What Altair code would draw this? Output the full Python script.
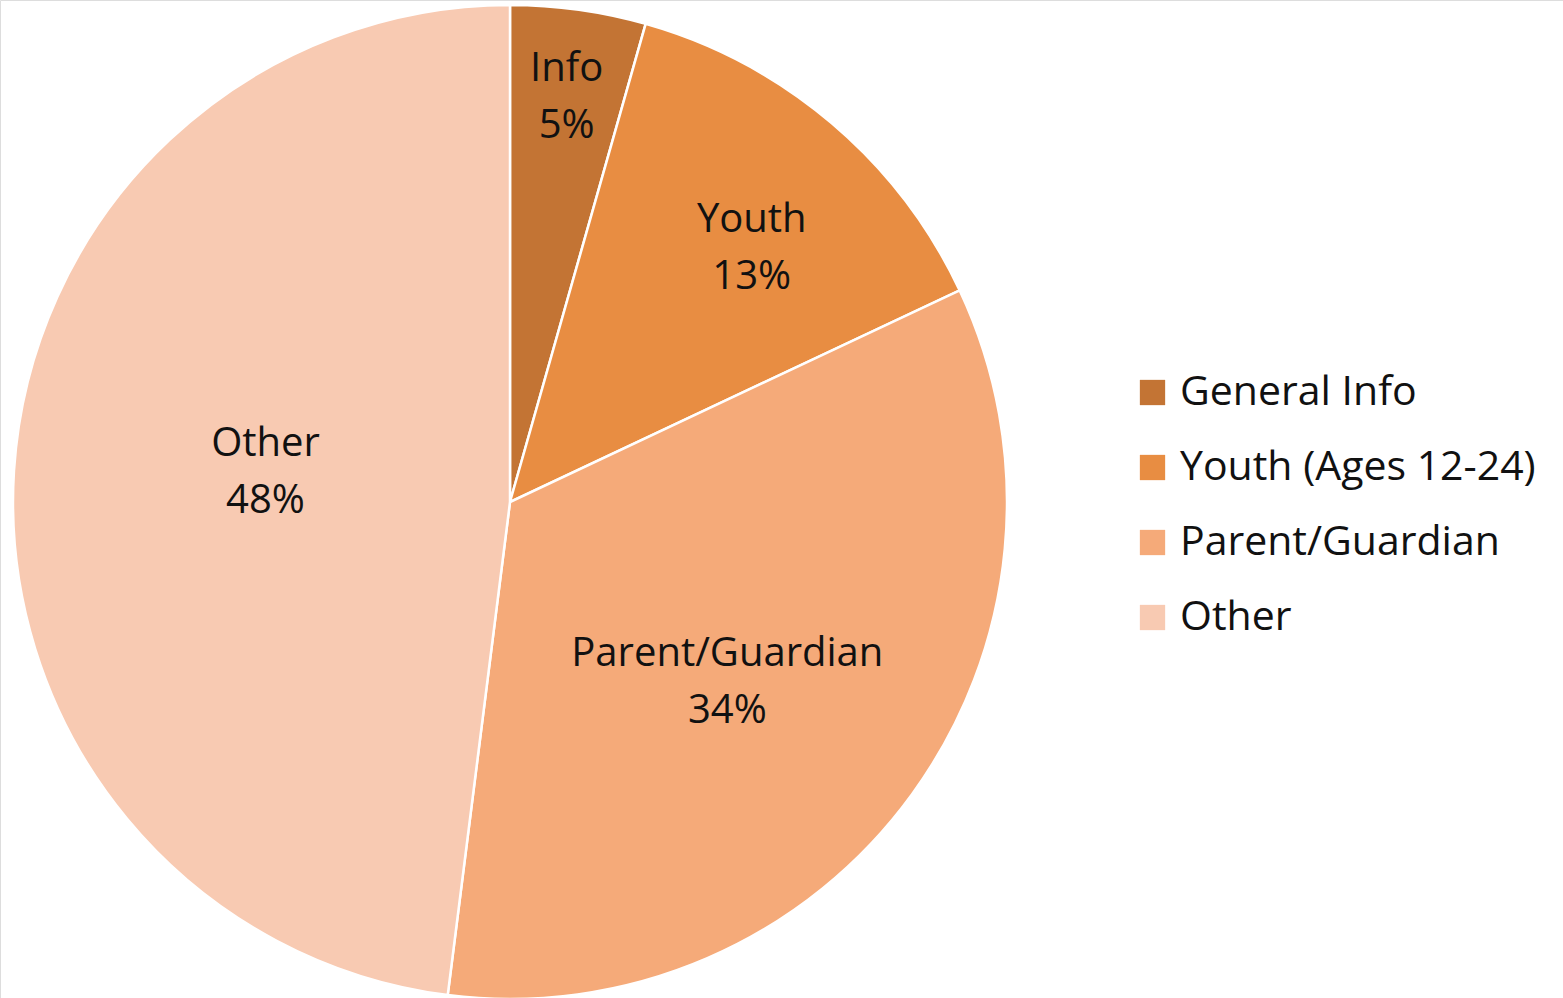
import altair as alt
import pandas as pd

categories = ["General Info", "Youth (Ages 12-24)", "Parent/Guardian", "Other"]
short_labels = ["Info", "Youth", "Parent/Guardian", "Other"]
values = [4.4, 13.6, 34.0, 48.0]
pct_labels = ["5%", "13%", "34%", "48%"]
colors = ["#C37434", "#E88D42", "#F5AA79", "#F8CAB2"]

df = pd.DataFrame({
    "category": categories,
    "short": short_labels,
    "value": values,
    "pct": pct_labels,
    "order": list(range(len(categories))),
})
df["label"] = df.apply(lambda r: [r["short"], r["pct"]], axis=1)

CX, CY, R = 510, 502, 497
FONT = "Open Sans"

color_scale = alt.Scale(domain=categories, range=colors)

base = alt.Chart(df).encode(
    theta=alt.Theta("value:Q", stack=True),
    order=alt.Order("order:Q"),
    x=alt.value(CX),
    y=alt.value(CY),
)

arcs = base.mark_arc(radius=R, stroke="white", strokeWidth=2.5).encode(
    color=alt.Color(
        "category:N",
        scale=color_scale,
        sort=categories,
        legend=alt.Legend(
            title=None,
            orient="none",
            legendX=1132,
            legendY=372,
            symbolType="square",
            symbolSize=640,
            symbolStrokeWidth=0,
            labelFont=FONT,
            labelFontSize=41,
            labelColor="#111111",
            labelLimit=500,
            labelOffset=7,
            rowPadding=33,
        ),
    )
)

# (radius, dx, dy) placement of each slice label
label_place = {
    "General Info": (411, 0, -26),
    "Youth (Ages 12-24)": (352, 14, -14),
    "Parent/Guardian": (281, -10, -13),
    "Other": (247, 2, -42),
}
layers = [arcs]
for cat in categories:
    r, dx, dy = label_place[cat]
    layers.append(
        base.mark_text(
            radius=r,
            dx=dx,
            dy=dy,
            font=FONT,
            fontSize=40,
            color="#111111",
            lineHeight=57,
            align="center",
            baseline="middle",
        ).encode(
            text=alt.Text("label"),
            opacity=alt.condition(alt.datum.category == cat, alt.value(1), alt.value(0)),
        )
    )

chart = alt.layer(*layers).properties(
    width=1563,
    height=998,
    padding=0,
    autosize=alt.AutoSizeParams(type="none"),
).configure_view(stroke=None).configure(background="white")

chart.save("out.html", embed_options={"renderer": "svg", "actions": False})
